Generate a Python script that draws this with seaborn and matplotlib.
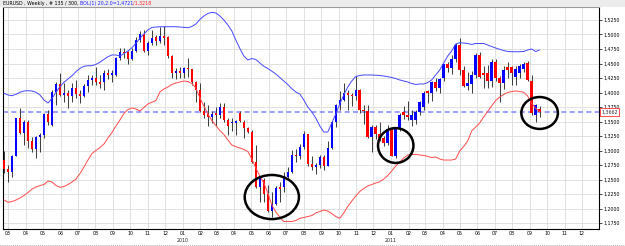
import numpy as np
import pandas as pd
import matplotlib
matplotlib.use("Agg")
import matplotlib.pyplot as plt
import matplotlib.dates as mdates
from matplotlib.patches import Ellipse, Rectangle
from matplotlib.ticker import MultipleLocator, FuncFormatter
import seaborn as sns

# EURUSD weekly candles
opens = [1.2835, 1.2674, 1.2634, 1.2904, 1.3554, 1.3306, 1.3485, 1.3163, 1.3020, 1.3238,
         1.3266, 1.3623, 1.3439, 1.4002, 1.4140, 1.3956, 1.3996, 1.3945, 1.4071, 1.3979,
         1.3945, 1.4112, 1.4215, 1.4255, 1.4175, 1.4175, 1.4330, 1.4301, 1.4301, 1.4589,
         1.4704, 1.4704, 1.4577, 1.4715, 1.4905, 1.5003, 1.4721, 1.4859, 1.4951, 1.4888,
         1.4980, 1.4962, 1.4635, 1.4330, 1.4370, 1.4330, 1.4428, 1.4400, 1.4175, 1.4042,
         1.3680, 1.3634, 1.3583, 1.3640, 1.3611, 1.3755, 1.3525, 1.3467, 1.3479, 1.3640,
         1.3496, 1.3381, 1.3324, 1.2795, 1.2375, 1.2491, 1.2243, 1.1955, 1.2076, 1.2375,
         1.2375, 1.2548, 1.2634, 1.2921, 1.2900, 1.3060, 1.3280, 1.2760, 1.2710, 1.2750,
         1.2890, 1.2740, 1.3050, 1.3490, 1.3790, 1.3870, 1.4000, 1.3960, 1.3940, 1.4040,
         1.3690, 1.3680, 1.3240, 1.3400, 1.3290, 1.3220, 1.3130, 1.3370, 1.2910, 1.3380,
         1.3660, 1.3620, 1.3525, 1.3525, 1.3669, 1.3755, 1.4025, 1.3985, 1.4175, 1.4083,
         1.4244, 1.4485, 1.4428, 1.4570, 1.4820, 1.4388, 1.4112, 1.4150, 1.4300, 1.4646,
         1.4330, 1.4330, 1.4200, 1.4530, 1.4250, 1.4170, 1.4440, 1.4445, 1.4273, 1.4340,
         1.4400, 1.4503, 1.4190, 1.3611, 1.3720]
highs = [1.2990, 1.2750, 1.2920, 1.3565, 1.3726, 1.3525, 1.3525, 1.3238, 1.3255, 1.3295,
         1.3640, 1.3698, 1.4042, 1.4186, 1.4342, 1.4157, 1.4042, 1.4157, 1.4215, 1.4042,
         1.4140, 1.4301, 1.4301, 1.4445, 1.4301, 1.4388, 1.4405, 1.4388, 1.4618, 1.4773,
         1.4761, 1.4715, 1.4761, 1.4963, 1.5060, 1.5078, 1.4888, 1.5078, 1.4990, 1.5135,
         1.5152, 1.4980, 1.4646, 1.4416, 1.4445, 1.4445, 1.4589, 1.4405, 1.4198, 1.4157,
         1.3841, 1.3784, 1.3680, 1.3755, 1.3813, 1.3813, 1.3554, 1.3554, 1.3525, 1.3680,
         1.3525, 1.3410, 1.3353, 1.3094, 1.2548, 1.2531, 1.2404, 1.2289, 1.2393, 1.2461,
         1.2634, 1.2720, 1.3008, 1.3020, 1.3110, 1.3333, 1.3290, 1.2900, 1.2780, 1.2920,
         1.2930, 1.3160, 1.3500, 1.3800, 1.4030, 1.4160, 1.4040, 1.4000, 1.4282, 1.4060,
         1.3790, 1.3780, 1.3440, 1.3440, 1.3500, 1.3250, 1.3440, 1.3390, 1.3400, 1.3640,
         1.3760, 1.3860, 1.3700, 1.3700, 1.3860, 1.4020, 1.4040, 1.4200, 1.4250, 1.4250,
         1.4500, 1.4520, 1.4650, 1.4860, 1.4940, 1.4450, 1.4350, 1.4370, 1.4680, 1.4700,
         1.4450, 1.4480, 1.4580, 1.4580, 1.4290, 1.4450, 1.4530, 1.4450, 1.4450, 1.4500,
         1.4530, 1.4550, 1.4301, 1.3810, 1.3760]
lows = [1.2605, 1.2450, 1.2548, 1.2900, 1.3278, 1.3094, 1.3036, 1.2979, 1.2875, 1.2967,
        1.3209, 1.3439, 1.3428, 1.3784, 1.3945, 1.3841, 1.3738, 1.3841, 1.3899, 1.3813,
        1.3922, 1.4002, 1.4129, 1.4129, 1.4071, 1.4042, 1.4232, 1.4175, 1.4290, 1.4560,
        1.4589, 1.4485, 1.4560, 1.4704, 1.4876, 1.4704, 1.4646, 1.4819, 1.4819, 1.4848,
        1.4819, 1.4589, 1.4255, 1.4232, 1.4255, 1.4255, 1.4273, 1.4129, 1.3841, 1.3657,
        1.3565, 1.3428, 1.3467, 1.3428, 1.3554, 1.3496, 1.3266, 1.3335, 1.3266, 1.3485,
        1.3209, 1.3298, 1.2778, 1.2358, 1.2116, 1.2116, 1.1944, 1.1858, 1.2059, 1.2116,
        1.2289, 1.2519, 1.2605, 1.2800, 1.2850, 1.3030, 1.2740, 1.2660, 1.2590, 1.2690,
        1.2660, 1.2730, 1.3020, 1.3410, 1.3690, 1.3860, 1.3700, 1.3770, 1.3870, 1.3650,
        1.3450, 1.3220, 1.2970, 1.3190, 1.3170, 1.3070, 1.3100, 1.2900, 1.2870, 1.3330,
        1.3550, 1.3520, 1.3430, 1.3450, 1.3620, 1.3700, 1.3820, 1.3860, 1.4030, 1.4000,
        1.4200, 1.4350, 1.4320, 1.4520, 1.4300, 1.4090, 1.4050, 1.3985, 1.4250, 1.4250,
        1.4070, 1.4080, 1.4100, 1.4200, 1.3840, 1.4060, 1.4250, 1.4129, 1.4130, 1.4250,
        1.4350, 1.4190, 1.3610, 1.3496, 1.3580]
closes = [1.2674, 1.2634, 1.2904, 1.3554, 1.3306, 1.3485, 1.3163, 1.3020, 1.3238, 1.3266,
          1.3623, 1.3485, 1.4002, 1.4140, 1.3956, 1.3996, 1.3945, 1.4071, 1.3968, 1.3945,
          1.4112, 1.4215, 1.4255, 1.4175, 1.4140, 1.4330, 1.4301, 1.4330, 1.4589, 1.4704,
          1.4675, 1.4577, 1.4715, 1.4905, 1.5003, 1.4721, 1.4859, 1.4934, 1.4888, 1.4980,
          1.4945, 1.4635, 1.4330, 1.4370, 1.4330, 1.4428, 1.4400, 1.4175, 1.4042, 1.3680,
          1.3611, 1.3583, 1.3623, 1.3611, 1.3755, 1.3525, 1.3428, 1.3496, 1.3508, 1.3508,
          1.3381, 1.3324, 1.2806, 1.2375, 1.2519, 1.2243, 1.1955, 1.2076, 1.2358, 1.2335,
          1.2548, 1.2634, 1.2921, 1.2900, 1.3060, 1.3280, 1.2760, 1.2710, 1.2750, 1.2890,
          1.2740, 1.3050, 1.3490, 1.3790, 1.3870, 1.4000, 1.3960, 1.3940, 1.4040, 1.3690,
          1.3680, 1.3240, 1.3400, 1.3290, 1.3220, 1.3130, 1.3370, 1.2910, 1.3380, 1.3610,
          1.3620, 1.3580, 1.3611, 1.3669, 1.3830, 1.3996, 1.3985, 1.4175, 1.4083, 1.4233,
          1.4485, 1.4428, 1.4570, 1.4820, 1.4388, 1.4112, 1.4158, 1.4300, 1.4646, 1.4273,
          1.4300, 1.4190, 1.4530, 1.4250, 1.4170, 1.4390, 1.4390, 1.4330, 1.4400, 1.4460,
          1.4500, 1.4215, 1.3650, 1.3784, 1.3662]

# Bollinger(20, 2.0) bands as drawn on the chart
bol_upper = [1.3986, 1.3957, 1.3945, 1.3969, 1.4004, 1.4026, 1.4031, 1.4026, 1.4004, 1.3957,
             1.3871, 1.3819, 1.3900, 1.4004, 1.4100, 1.4176, 1.4233, 1.4290, 1.4359, 1.4417,
             1.4452, 1.4462, 1.4462, 1.4486, 1.4521, 1.4572, 1.4617, 1.4647, 1.4647, 1.4629,
             1.4669, 1.4716, 1.4772, 1.4848, 1.4934, 1.5009, 1.5078, 1.5121, 1.5129, 1.5133,
             1.5134, 1.5134, 1.5134, 1.5134, 1.5129, 1.5124, 1.5117, 1.5138, 1.5181, 1.5259,
             1.5319, 1.5362, 1.5383, 1.5371, 1.5319, 1.5250, 1.5164, 1.5060, 1.4905, 1.4759,
             1.4629, 1.4560, 1.4586, 1.4569, 1.4509, 1.4452, 1.4414, 1.4366, 1.4319, 1.4259,
             1.4198, 1.4138, 1.4066, 1.4009, 1.3974, 1.3871, 1.3750, 1.3664, 1.3560, 1.3423,
             1.3319, 1.3319, 1.3474, 1.3629, 1.3802, 1.3957, 1.4095, 1.4198, 1.4276, 1.4293,
             1.4302, 1.4302, 1.4302, 1.4298, 1.4293, 1.4285, 1.4272, 1.4259, 1.4241, 1.4216,
             1.4198, 1.4181, 1.4155, 1.4138, 1.4147, 1.4147, 1.4172, 1.4216, 1.4302, 1.4388,
             1.4509, 1.4629, 1.4716, 1.4836, 1.4859, 1.4853, 1.4845, 1.4828, 1.4845, 1.4845,
             1.4845, 1.4819, 1.4793, 1.4767, 1.4745, 1.4724, 1.4707, 1.4703, 1.4703, 1.4703,
             1.4707, 1.4733, 1.4750, 1.4707, 1.4733]
bol_lower = [1.2147, 1.2107, 1.2121, 1.2147, 1.2181, 1.2224, 1.2276, 1.2336, 1.2371, 1.2397,
             1.2414, 1.2474, 1.2457, 1.2397, 1.2366, 1.2379, 1.2414, 1.2457, 1.2509, 1.2603,
             1.2716, 1.2836, 1.2948, 1.3000, 1.3052, 1.3112, 1.3216, 1.3310, 1.3423, 1.3526,
             1.3638, 1.3707, 1.3733, 1.3716, 1.3681, 1.3741, 1.3802, 1.3831, 1.3862, 1.4009,
             1.4060, 1.4095, 1.4138, 1.4164, 1.4181, 1.4198, 1.4190, 1.4155, 1.4078, 1.3905,
             1.3767, 1.3629, 1.3517, 1.3431, 1.3345, 1.3276, 1.3181, 1.3095, 1.3066, 1.3043,
             1.3017, 1.2983, 1.2854, 1.2698, 1.2560, 1.2440, 1.2267, 1.2060, 1.1940, 1.1853,
             1.1776, 1.1776, 1.1776, 1.1793, 1.1831, 1.1845, 1.1862, 1.1879, 1.1923, 1.1948,
             1.1974, 1.1957, 1.1914, 1.1862, 1.1831, 1.1923, 1.2035, 1.2129, 1.2216, 1.2293,
             1.2345, 1.2388, 1.2414, 1.2440, 1.2462, 1.2509, 1.2569, 1.2647, 1.2733, 1.2802,
             1.2871, 1.2923, 1.2931, 1.2934, 1.2923, 1.2914, 1.2900, 1.2879, 1.2888, 1.2854,
             1.2836, 1.2836, 1.2836, 1.2854, 1.2991, 1.3069, 1.3164, 1.3336, 1.3405, 1.3474,
             1.3578, 1.3672, 1.3767, 1.3862, 1.3922, 1.3966, 1.4000, 1.4017, 1.4026, 1.4017,
             1.4004, 1.3940, 1.3819, 1.3728, 1.3669]

first_week = "2009-02-22"
last_price = 1.3662
title_main = "EURUSD , Weekly , # 135 / 300, "
title_bol = "BOL(1) 20,2.0=1,4721"
title_bol2 = "/1,3218"

# the three circled areas: (candle number, price, width in days, height in price)
circles = [(68, 1.2198, 95, 0.076), (99, 1.3086, 62, 0.060), (135, 1.3647, 64, 0.055)]

dates = pd.date_range(first_week, periods=len(opens), freq="7D")
x = mdates.date2num(dates)
df = pd.DataFrame({"x": x, "open": opens, "high": highs, "low": lows, "close": closes,
                   "upper": bol_upper, "lower": bol_lower})
up = df["close"] >= df["open"]

sns.set_style("white")
plt.rcParams["font.family"] = ["DejaVu Sans"]

fig = plt.figure(figsize=(6.25, 2.46), dpi=100, facecolor="white")
# grey strip behind the title
fig.patches.append(Rectangle((0, 1 - 7 / 246), 1, 7 / 246, transform=fig.transFigure,
                             facecolor="#ececec", edgecolor="none", zorder=0))
fig.add_artist(plt.Line2D([0, 1], [1.5 / 246, 1.5 / 246], transform=fig.transFigure,
                          color="#9a9a9a", lw=0.6, ls=(0, (1, 1.5))))

ax = fig.add_axes([3 / 625, 1 - 229 / 246, 596 / 625, 222 / 246])
ax.set_facecolor("white")

# grid
ax.xaxis_date()
ax.xaxis.set_major_locator(mdates.MonthLocator())
ax.xaxis.set_major_formatter(mdates.DateFormatter("%m"))
ax.yaxis.set_major_locator(MultipleLocator(0.025))
ax.yaxis.set_major_formatter(FuncFormatter(lambda v, p: f"{v:.4f}".replace(".", ",")))
ax.grid(True, color="#dcdcdc", lw=0.6)
ax.set_axisbelow(True)

# candles
ax.vlines(df["x"], df["low"], df["high"], color="#3a3a3a", lw=0.7, zorder=2)
body = (df["close"] - df["open"]).abs().clip(lower=0.0009)
ax.bar(df["x"], body, bottom=df[["open", "close"]].min(axis=1), width=4.4,
       color=np.where(up, "#0000ff", "#ff0000"), lw=0, zorder=3)

# bollinger bands
sns.lineplot(data=df, x="x", y="upper", color="#4646ff", lw=0.7, ax=ax, zorder=4)
sns.lineplot(data=df, x="x", y="lower", color="#ff4a4a", lw=0.7, ax=ax, zorder=4)

# current price line
ax.axhline(last_price, color="#8c8cff", lw=1.2, ls=(0, (3, 2)), zorder=1)

for n, py, wd, ht in circles:
    ax.add_patch(Ellipse((x[n - 1], py), wd, ht, fill=False, ec="black", lw=1.8, zorder=6))

ax.set_xlim(x[0] - 1.8, mdates.date2num(pd.Timestamp("2011-12-31")))
ax.set_ylim(1.1647, 1.5474)
ax.set_xlabel("")
ax.set_ylabel("")

ax.yaxis.tick_right()
ax.tick_params(axis="both", labelsize=3.4, length=2, width=0.5, pad=1.5, colors="black")
ax.tick_params(axis="x", length=0, pad=1.5)
for s in ["left", "bottom", "right"]:
    ax.spines[s].set_color("black")
    ax.spines[s].set_linewidth(0.8)
ax.spines["top"].set_color("#9a9a9a")

for yr in ["2010", "2011"]:
    ax.text(mdates.date2num(pd.Timestamp(yr + "-01-01")), -0.05, yr, transform=ax.get_xaxis_transform(),
            ha="center", va="center", fontsize=3.4)

ax.text(1.0035, (last_price - 1.1647) / (1.5474 - 1.1647), f"{last_price:.4f}".replace(".", ","),
        transform=ax.transAxes, fontsize=3.4, color="#303030", va="center", ha="left",
        bbox=dict(boxstyle="square,pad=0.25", fc="white", ec="#ff3030", lw=0.6))

t1 = fig.text(3 / 625, 1 - 3 / 246, title_main, fontsize=3.4, va="center", ha="left", color="black")
fig.canvas.draw()
bb = t1.get_window_extent()
t2 = fig.text(bb.x1 / 625, 1 - 3 / 246, title_bol, fontsize=3.4, va="center", ha="left", color="#2020ff")
bb2 = t2.get_window_extent()
fig.text(bb2.x1 / 625, 1 - 3 / 246, title_bol2, fontsize=3.4, va="center", ha="left", color="#ff2020")

fig.savefig("out.png", dpi=100, facecolor=fig.get_facecolor())
